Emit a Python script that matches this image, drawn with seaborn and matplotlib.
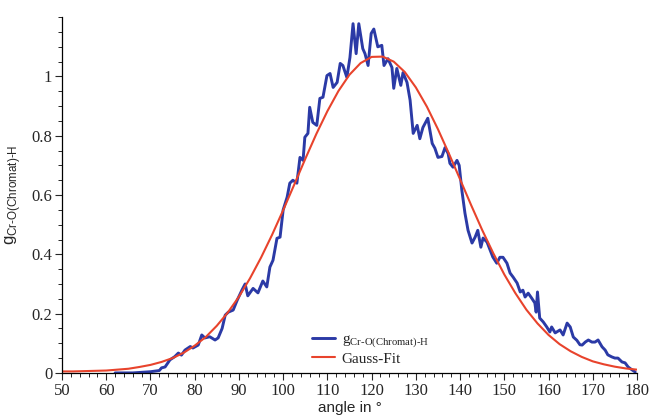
import pandas as pd
import matplotlib
matplotlib.use("Agg")
import matplotlib.pyplot as plt
import seaborn as sns
from matplotlib.ticker import MultipleLocator

angle_data = [
    62, 66, 70, 72, 72.5, 73.3, 74.4, 75.5, 76.3, 77, 77.8, 79, 79.6, 80.8, 81.6, 82.3,
    83.4, 84.6, 85.3, 86.2, 86.9, 87.6, 88.7, 89.6, 90.7, 91.4, 92, 93.2, 94.3, 95.4,
    96.3, 97, 97.7, 98.6, 99.3, 100, 100.9, 101.5, 102.2, 103.1, 103.8, 104.5, 104.9,
    105.6, 106, 106.7, 107.6, 108.3, 109, 109.9, 110.6, 111.3, 112.2, 112.9, 113.5,
    114.4, 115.1, 115.8, 116.5, 117.1, 118, 118.5, 119.2, 119.9, 120.5, 121.4, 122.3,
    122.8, 123.7, 124.6, 125, 125.7, 126.6, 127.1, 128, 128.7, 129.4, 130.3, 130.9,
    131.6, 132.7, 133.7, 134.3, 135, 135.9, 136.6, 137.3, 137.7, 138.4, 139.3, 139.8,
    140.4, 141.1, 141.8, 142.7, 143.4, 144, 144.7, 145.2, 146.1, 146.8, 147.4, 148.3,
    149, 149.7, 150.6, 151.3, 152, 152.9, 153.6, 154.2, 154.7, 155.4, 156.2, 156.9,
    157.2, 157.5, 158, 158.8, 159.6, 160.3, 160.7, 161.5, 162.6, 163.3, 164.2, 164.9,
    165.6, 166.4, 167.1, 167.6, 168.3, 169, 169.8, 170.5, 171.2, 172.1, 172.8, 173.4,
    174.3, 175, 175.7, 176.6, 177.3, 178, 178.9, 179.6,
]
g_data = [
    0.0, 0.0, 0.004, 0.008, 0.017, 0.02, 0.044, 0.055, 0.067, 0.06, 0.077, 0.089, 0.084,
    0.094, 0.128, 0.118, 0.122, 0.111, 0.118, 0.15, 0.195, 0.205, 0.212, 0.245, 0.28,
    0.30, 0.26, 0.285, 0.27, 0.31, 0.29, 0.357, 0.38, 0.454, 0.458, 0.55, 0.593, 0.64,
    0.65, 0.64, 0.727, 0.717, 0.795, 0.808, 0.896, 0.845, 0.835, 0.926, 0.93, 1.003,
    1.01, 0.963, 0.98, 1.044, 1.037, 0.997, 1.064, 1.178, 1.077, 1.178, 1.094, 1.077,
    1.037, 1.145, 1.16, 1.10, 1.105, 1.037, 1.06, 1.03, 0.96, 1.027, 0.97, 1.013, 0.98,
    0.92, 0.808, 0.835, 0.79, 0.828, 0.859, 0.774, 0.758, 0.727, 0.73, 0.76, 0.74,
    0.707, 0.694, 0.717, 0.70, 0.616, 0.539, 0.481, 0.438, 0.458, 0.481, 0.424, 0.455,
    0.441, 0.414, 0.391, 0.37, 0.39, 0.39, 0.37, 0.337, 0.323, 0.303, 0.273, 0.279,
    0.256, 0.269, 0.252, 0.236, 0.205, 0.273, 0.185, 0.172, 0.155, 0.138, 0.155, 0.135,
    0.145, 0.128, 0.168, 0.155, 0.121, 0.11, 0.095, 0.094, 0.104, 0.111, 0.104, 0.104,
    0.111, 0.088, 0.077, 0.061, 0.054, 0.05, 0.05, 0.037, 0.034, 0.02, 0.01, 0.003,
]

# Gauss fit curve, every 2.5 degrees
angle_fit = [50 + 2.5 * i for i in range(53)]
g_fit = [
    0.005, 0.005, 0.006, 0.007, 0.008, 0.011, 0.014, 0.020, 0.027, 0.037, 0.050, 0.068,
    0.092, 0.121, 0.159, 0.204, 0.257, 0.319, 0.389, 0.466, 0.549, 0.635, 0.722, 0.806,
    0.883, 0.951, 1.006, 1.045, 1.066, 1.067, 1.050, 1.015, 0.963, 0.898, 0.822, 0.739,
    0.653, 0.566, 0.482, 0.404, 0.332, 0.269, 0.213, 0.167, 0.128, 0.097, 0.073, 0.054,
    0.039, 0.029, 0.021, 0.015, 0.011,
]

x_ticks = [50, 60, 70, 80, 90, 100, 110, 120, 130, 140, 150, 160, 170, 180]
y_ticks = [0, 0.2, 0.4, 0.6, 0.8, 1.0]
y_tick_labels = ["0", "0.2", "0.4", "0.6", "0.8", "1"]

sns.set_theme(style="ticks")
plt.rcParams["font.family"] = ["Liberation Serif", "DejaVu Serif"]
plt.rcParams["mathtext.fontset"] = "custom"
plt.rcParams["mathtext.rm"] = "Liberation Serif"
plt.rcParams["mathtext.sf"] = "Liberation Sans"

df_data = pd.DataFrame({"angle": angle_data, "g": g_data})
df_fit = pd.DataFrame({"angle": angle_fit, "g": g_fit})

fig = plt.figure(figsize=(6.5, 4.19), dpi=100)
ax = fig.add_axes([0.0954, 0.11, 0.8846, 0.849])

sns.lineplot(data=df_data, x="angle", y="g", ax=ax, color="#2b3aa6", linewidth=2.1,
             label=r"g$_{\mathrm{Cr\text{-}O(Chromat)\text{-}H}}$")
sns.lineplot(data=df_fit, x="angle", y="g", ax=ax, color="#e8432c", linewidth=1.5,
             label="Gauss-Fit")

ax.set_xlim(50, 180)
ax.set_ylim(0, 1.2)
ax.set_xticks(x_ticks)
ax.set_yticks(y_ticks)
ax.set_yticklabels(y_tick_labels)
ax.xaxis.set_minor_locator(MultipleLocator(2))
ax.yaxis.set_minor_locator(MultipleLocator(0.05))
ax.tick_params(which="major", length=5, width=0.8, labelsize=12, direction="out", pad=2)
ax.tick_params(which="minor", length=3, width=0.7, direction="out")
for side in ["top", "right"]:
    ax.spines[side].set_visible(False)
for side in ["left", "bottom"]:
    ax.spines[side].set_linewidth(0.9)
    ax.spines[side].set_color("black")

ax.set_xlabel("angle in °", family=["Liberation Sans", "DejaVu Sans"], fontsize=11, labelpad=2)
ax.set_ylabel("g$_{\\mathsf{Cr\u2010O(Chromat)\u2010H}}$",
              family=["Liberation Sans", "DejaVu Sans"], fontsize=12, labelpad=6)

leg = ax.legend(loc="upper left", bbox_to_anchor=(0.425, 0.13), frameon=False,
                fontsize=11, handlelength=1.5, handletextpad=0.4, labelspacing=0.1,
                borderaxespad=0)

fig.savefig("out.png", dpi=100)
